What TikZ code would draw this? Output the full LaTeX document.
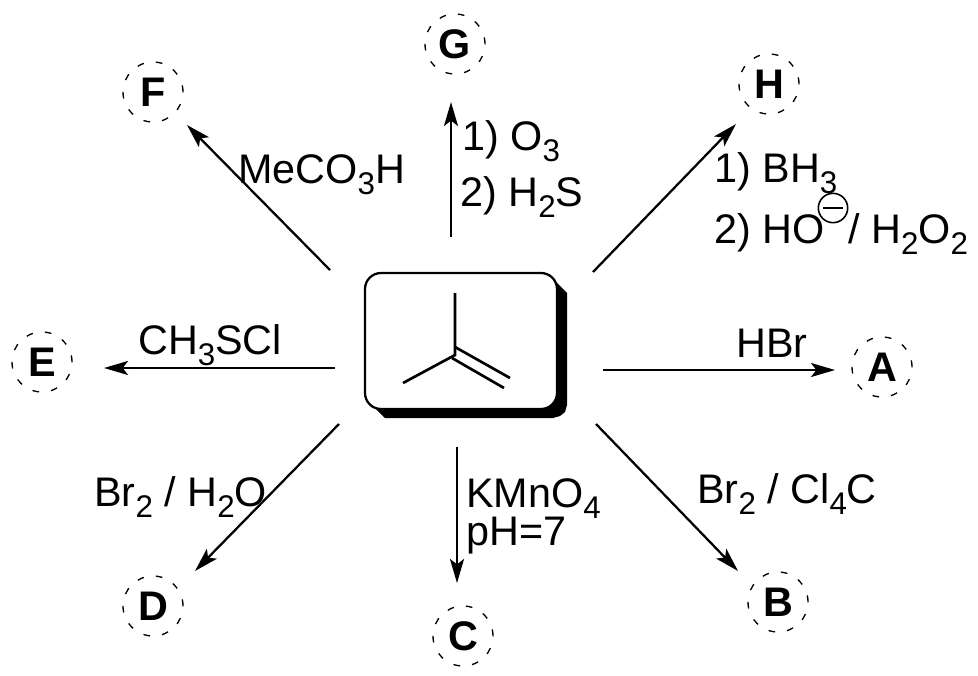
\documentclass[tikz,border=0pt]{standalone}
\usepackage{fontspec}
\setmainfont{Liberation Sans}
\usetikzlibrary{arrows.meta}
\newcommand{\subs}[1]{\raisebox{-0.27em}{\fontsize{23.5}{23.5}\selectfont #1}}
\tikzset{
  px/.style={x=0.75pt,y=-0.75pt},
  label/.style={anchor=base west,inner sep=0pt,font=\fontsize{31}{31}\selectfont},
  prod/.style={circle,draw,line width=1pt,dash pattern=on 5pt off 9.1pt,minimum size=45pt,inner sep=0pt,font=\fontsize{31}{31}\selectfont\bfseries},
  rxn/.style={line width=1.7pt,-{Stealth[length=18pt,width=10.5pt,inset=4pt]}},
  bond/.style={line width=2pt},
  card/.style={rounded corners=12pt,line width=1.7pt,draw,fill=white},
  charge/.style={circle,draw,line width=1.2pt,minimum size=22pt,inner sep=0pt}
}
\begin{document}
\begin{tikzpicture}[px]
\useasboundingbox (0,0) rectangle (978,675);
% products
\node[prod] (A) at (882,367) {A};
\node[prod] (B) at (778,602) {B};
\node[prod] (C) at (463,636) {C};
\node[prod] (D) at (153,606) {D};
\node[prod] (E) at (42,362) {E};
\node[prod] (F) at (153,92) {F};
\node[prod] (G) at (455,44) {G};
\node[prod] (H) at (769,84) {H};
% central card
\fill (552,278) -- (567,293) -- (567,405) -- (565,412) -- (560,416) -- (553,418) -- (385,418) -- (370,403) -- cycle;
\draw[card] (365,273) rectangle (557,409);
% molecule
\coordinate (mTop) at (455,293);
\coordinate (mC) at (455,355);
\coordinate (mL) at (403,383);
\coordinate (m1a) at (455,347);
\coordinate (m1b) at (510,378);
\coordinate (m2a) at (452,358);
\coordinate (m2b) at (504,388);
\draw[bond] (mTop) -- (mC) -- (mL);
\draw[bond] (m1a) -- (m1b);
\draw[bond] (m2a) -- (m2b);
% arrow tails and heads
\coordinate (sA) at (603,370); \coordinate (eA) at (835,370);
\coordinate (sB) at (596,424); \coordinate (eB) at (738,571);
\coordinate (sC) at (457,447); \coordinate (eC) at (457,583);
\coordinate (sD) at (339,424); \coordinate (eD) at (195,571);
\coordinate (sE) at (335,368); \coordinate (eE) at (104,368);
\coordinate (sF) at (330,270); \coordinate (eF) at (187,125);
\coordinate (sG) at (451,237); \coordinate (eG) at (451,102);
\coordinate (sH) at (593,272); \coordinate (eH) at (736,124);
\foreach \k in {A,B,C,D,E,F,G,H} \draw[rxn] (s\k) -- (e\k);
% labels
\node[label] (lF) at (238,183) {MeCO\subs{3}H};
\node[label] (lG1) at (462,150) {1) O\subs{3}};
\node[label] (lG2) at (460,206) {2) H\subs{2}S};
\node[label] (lH1) at (714,182) {1) BH\subs{3}};
\node[label] (lH2) at (714,243) {2) HO};
\node[label] (lH3) at (848,243) {/ H\subs{2}O\subs{2}};
\node[charge] (neg) at (833,208) {};
\draw[line width=1.2pt] (neg.center) ++(-10,0) -- ++(20,0);
\node[label] (lE) at (138,354) {CH\subs{3}SCl};
\node[label] (lA) at (736,357) {HBr};
\node[label] (lD) at (94,506) {Br\subs{2} / H\subs{2}O};
\node[label] (lC1) at (466,507) {KMnO\subs{4}};
\node[label] (lC2) at (466,545) {pH=7};
\node[label] (lB) at (697,503) {Br\subs{2} / Cl\subs{4}C};
\end{tikzpicture}
\end{document}
